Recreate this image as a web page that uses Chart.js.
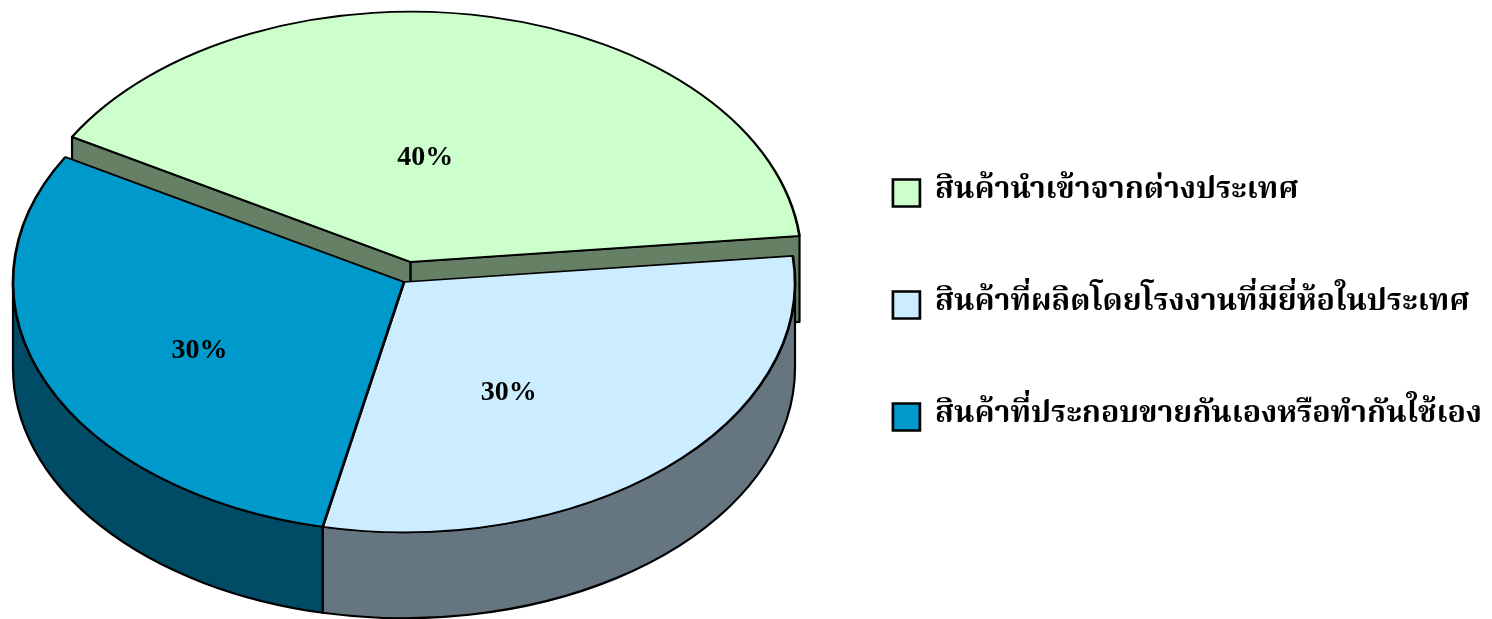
<!DOCTYPE html>
<html>
<head>
<meta charset="utf-8">
<script src="https://cdn.jsdelivr.net/npm/chart.js@4.4.1/dist/chart.umd.min.js"></script>
<style>
  html, body { margin: 0; padding: 0; background: #fff; }
  #wrap { width: 1492px; height: 619px; }
</style>
</head>
<body>
<div id="wrap"><canvas id="pieChart"></canvas></div>
<script>
const labels = [
  'สินค้านำเข้าจากต่างประเทศ',
  'สินค้าที่ผลิตโดยโรงงานที่มียี่ห้อในประเทศ',
  'สินค้าที่ประกอบขายกันเองหรือทำกันใช้เอง'
];
const shares = [40, 30, 30];
const topColors = ['#CCFFCC', '#CCECFF', '#0099CC'];
const sideColors = ['#668066', '#667680', '#004C66'];
const explode = [32, 0, 0];

// 3D look: centre of the pie on screen, tilt and thickness
const CX = 404, CY = 282, TILT = 0.64, DEPTH = 86;
// percent labels sit a little left/down of the slice centroid
const LABEL_DX = -26, LABEL_DY = 18;
const LEGEND_SIZE = 30.4;
const THAI_FONT = 'Norasi, "Noto Serif Thai", "Noto Sans Thai", Loma, Garuda, "Tlwg Typo", serif';

const pie3d = {
  id: 'pie3d',
  beforeDatasetDraw(chart, args) {
    const ctx = chart.ctx;
    const ds = chart.data.datasets[args.index];
    const geo = args.meta.data.map((arc, i) => {
      const mid = (arc.startAngle + arc.endAngle) / 2;
      const e = ds.explode[i] || 0;
      return {
        arc, i, s: arc.startAngle, t: arc.endAngle, r: arc.outerRadius,
        cx: CX + Math.cos(mid) * e, cy: CY + Math.sin(mid) * e * TILT
      };
    });
    const pt = (g, a) => [g.cx + g.r * Math.cos(a), g.cy + g.r * TILT * Math.sin(a)];

    ctx.save();
    ctx.lineWidth = 2.2;
    ctx.strokeStyle = '#000';
    ctx.lineJoin = 'round';

    // cut faces of the pulled-out slice
    geo.filter(g => ds.explode[g.i] > 0).forEach(g => {
      [g.s, g.t].forEach(a => {
        const p = pt(g, a);
        ctx.beginPath();
        ctx.moveTo(g.cx, g.cy);
        ctx.lineTo(p[0], p[1]);
        ctx.lineTo(p[0], p[1] + DEPTH);
        ctx.lineTo(g.cx, g.cy + DEPTH);
        ctx.closePath();
        ctx.fillStyle = sideColors[g.i];
        ctx.fill();
        ctx.stroke();
      });
    });

    // front rim walls
    geo.forEach(g => {
      for (let k = -1; k <= 1; k++) {
        const a = Math.max(g.s, 2 * Math.PI * k);
        const b = Math.min(g.t, 2 * Math.PI * k + Math.PI);
        if (b <= a) continue;
        const pb = pt(g, b);
        ctx.beginPath();
        ctx.ellipse(g.cx, g.cy, g.r, g.r * TILT, 0, a, b);
        ctx.lineTo(pb[0], pb[1] + DEPTH);
        ctx.ellipse(g.cx, g.cy + DEPTH, g.r, g.r * TILT, 0, b, a, true);
        ctx.closePath();
        ctx.fillStyle = sideColors[g.i];
        ctx.fill();
        ctx.stroke();
      }
    });

    // top faces, drawn by the arc elements themselves
    geo.forEach(g => {
      ctx.save();
      ctx.translate(g.cx, g.cy);
      ctx.scale(1, TILT);
      ctx.translate(-g.arc.x, -g.arc.y);
      g.arc.draw(ctx);
      ctx.restore();
    });

    // percentage labels
    const total = ds.data.reduce((a, b) => a + b, 0);
    ctx.font = 'bold 28px "Liberation Serif", "Times New Roman", serif';
    ctx.fillStyle = '#000';
    ctx.textAlign = 'center';
    ctx.textBaseline = 'middle';
    geo.forEach(g => {
      const p = g.arc.tooltipPosition();
      const x = g.cx + (p.x - g.arc.x) + LABEL_DX;
      const y = g.cy + (p.y - g.arc.y) * TILT + LABEL_DY;
      ctx.fillText(Math.round(ds.data[g.i] / total * 100) + '%', x, y);
    });
    ctx.restore();
    return false;
  }
};

new Chart(document.getElementById('pieChart'), {
  type: 'pie',
  data: {
    labels: labels,
    datasets: [{
      data: shares,
      backgroundColor: topColors,
      borderColor: '#000',
      borderWidth: 2.7,
      explode: explode
    }]
  },
  options: {
    responsive: true,
    maintainAspectRatio: false,
    animation: false,
    events: [],
    rotation: -60,
    radius: 391,
    layout: { padding: { right: 0, bottom: 9 } },
    plugins: {
      tooltip: { enabled: false },
      legend: {
        position: 'right',
        labels: {
          boxWidth: 27,
          boxHeight: 27,
          padding: 112 - LEGEND_SIZE,
          color: '#000',
          font: { family: THAI_FONT, size: LEGEND_SIZE, weight: 'bold' }
        }
      }
    }
  },
  plugins: [pie3d]
});
</script>
</body>
</html>
